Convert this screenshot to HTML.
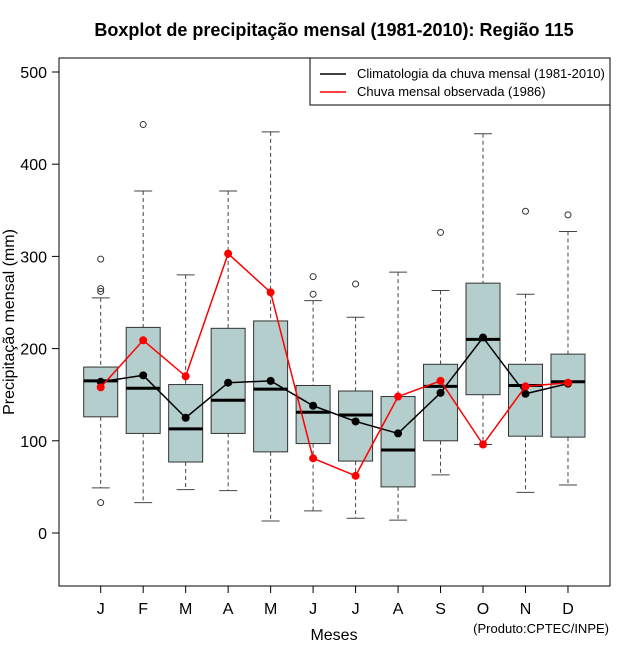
<!DOCTYPE html>
<html><head><meta charset="utf-8"><style>body{margin:0;background:#fff}svg{display:block;font-family:"Liberation Sans",sans-serif}</style></head>
<body>
<svg id="c" width="640" height="660" xmlns="http://www.w3.org/2000/svg">
<text x="334" y="36" text-anchor="middle" font-size="18" font-weight="bold">Boxplot de precipitação mensal (1981-2010): Região 115</text>
<rect x="59" y="58" width="551" height="528" fill="none" stroke="#000"/>
<text transform="translate(14,322) rotate(-90)" text-anchor="middle" font-size="16">Precipitação mensal (mm)</text>
<text x="334" y="640" text-anchor="middle" font-size="16">Meses</text>
<text x="609" y="633" text-anchor="end" font-size="13">(Produto:CPTEC/INPE)</text>
<g id="g"></g>
<g>
<rect x="310" y="58" width="300" height="47" fill="#fff" stroke="#000"/>
<line x1="320" y1="74" x2="346" y2="74" stroke="#000" stroke-width="1.5"/>
<text x="357" y="78" font-size="13">Climatologia da chuva mensal (1981-2010)</text>
<line x1="320" y1="92" x2="346" y2="92" stroke="red" stroke-width="1.5"/>
<text x="357" y="96" font-size="13">Chuva mensal observada (1986)</text>
</g>
</svg>
<script>
const months=["J","F","M","A","M","J","J","A","S","O","N","D"];
const whiskerLow=[49,33,47,46,13,24,16,14,63,96,44,52];
const q1=[126,108,77,108,88,97,78,50,100,150,105,104];
const median=[165,157,113,144,156,131,128,90,159,210,160,164];
const q3=[180,223,161,222,230,160,154,148,183,271,183,194];
const whiskerHigh=[255,371,280,371,435,252,234,283,263,433,259,327];
const outliers=[[297,265,262,33],[443],[],[],[],[278,259],[270],[],[326],[],[349],[345]];
const climatology=[164,171,125,163,165,138,121,108,152,212,151,162];
const observed=[158,209,170,303,261,81,62,148,165,96,159,163];
const yTicks=[0,100,200,300,400,500];
const NS="http://www.w3.org/2000/svg";
const g=document.getElementById('g');
const X=i=>100.7+i*42.48;
const Y=v=>533-v*0.922;
function mk(t,a,p){const e=document.createElementNS(NS,t);for(const k in a)e.setAttribute(k,a[k]);(p||g).appendChild(e);return e;}
yTicks.forEach(v=>{
 const l=mk('line',{x1:52,x2:59,y1:Y(v),y2:Y(v),stroke:'#000'});
 
 
 const t=mk('text',{x:47,y:Y(v)+6,'text-anchor':'end','font-size':16});
 
 
 t.textContent=v;
});
months.forEach((m,i)=>{
 const x=X(i);
 const l=mk('line',{x1:x,x2:x,y1:586,y2:593,stroke:'#000'});
 
 
 const t=mk('text',{x:x,y:614,'text-anchor':'middle','font-size':16});
 
 
 t.textContent=m;
 const b=mk('g',{});
 
 
 mk('line',{x1:x,x2:x,y1:Y(whiskerHigh[i]),y2:Y(q3[i]),stroke:'#444','stroke-dasharray':'4,3'},b);
 mk('line',{x1:x,x2:x,y1:Y(q1[i]),y2:Y(whiskerLow[i]),stroke:'#444','stroke-dasharray':'4,3'},b);
 mk('line',{x1:x-9,x2:x+9,y1:Y(whiskerHigh[i]),y2:Y(whiskerHigh[i]),stroke:'#444'},b);
 mk('line',{x1:x-9,x2:x+9,y1:Y(whiskerLow[i]),y2:Y(whiskerLow[i]),stroke:'#444'},b);
 mk('rect',{x:x-17,y:Y(q3[i]),width:34,height:Y(q1[i])-Y(q3[i]),fill:'#b4cecd',stroke:'#333'},b);
 mk('line',{x1:x-17,x2:x+17,y1:Y(median[i]),y2:Y(median[i]),stroke:'#000','stroke-width':3},b);
 outliers[i].forEach(o=>mk('circle',{cx:x,cy:Y(o),r:3,fill:'none',stroke:'#333'},b));
});
function series(vals,col,name){
 const p=mk('polyline',{points:vals.map((v,i)=>X(i)+','+Y(v)).join(' '),fill:'none',stroke:col,'stroke-width':1.5});
 
 
 vals.forEach((v,i)=>{const c=mk('circle',{cx:X(i),cy:Y(v),r:4,fill:col});
 
 });
}
series(climatology,'#000','climatology');
series(observed,'red','observed');
</script>
</body></html>
